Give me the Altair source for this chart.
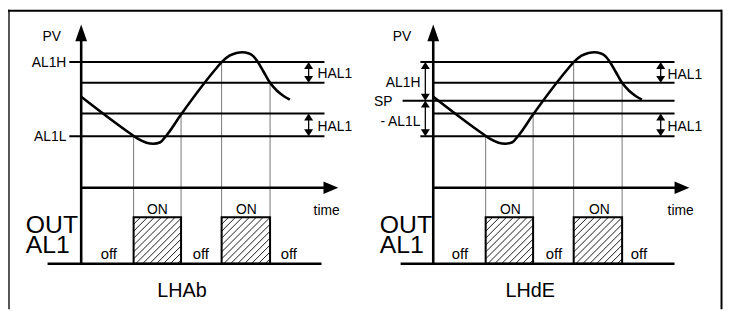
import altair as alt
import pandas as pd

# ---------------- data ----------------
PANEL_NAMES = ["LHAb", "LHdE"]
AXIS_X = [82, 438]              # where each PV axis stands (time origin)

# PV levels (rows of the drawing)
AL1H = 61
AL1H_MINUS_HAL1 = 82
SP = 100
AL1L_PLUS_HAL1 = 113
AL1L = 136

# PV trace, time measured from the PV axis
CURVE_T = [0, 50, 58, 66, 73, 80, 86, 101, 136, 142, 150, 157, 163, 169, 174, 178, 184, 191, 198, 205, 211]
CURVE_PV = [96, 133.5, 139, 142.5, 143.5, 142, 135.5, 114, 68, 61, 54.5, 51.8, 51, 52, 55, 60, 70, 82, 90, 95.5, 99]

# switching instants of the alarm output and the level crossed
SWITCH_T = [53, 101, 142, 191]
SWITCH_PV = [AL1L, AL1L_PLUS_HAL1, AL1H, AL1H_MINUS_HAL1]

# level lines per panel: (level, start, end) relative to axis
LEVELS_LHAB = [(AL1H, -12, 246), (AL1H_MINUS_HAL1, 0, 246), (AL1L_PLUS_HAL1, 0, 246), (AL1L, -12, 246)]
LEVELS_LHDE = [(AL1H, -13, 244), (AL1H_MINUS_HAL1, 0, 244), (SP, -31, 244), (AL1L_PLUS_HAL1, 0, 244), (AL1L, -13, 244)]

TIME_AXIS_ROW = 188
OUT_HIGH_ROW = 218
OUT_LOW_ROW = 265
PV_TOP = 23

ON_TEXT = "ON"
OFF_TEXT = "off"
OUT_LABEL = ["OUT", "AL1"]

# ---------------- layout ----------------
X = alt.Scale(domain=[8, 731], range=[0, 723])
Y = alt.Scale(domain=[8, 311], range=[0, 303])
FONT = "Liberation Sans"

def xq(f="x"):
    return alt.X(f + ":Q", scale=X, axis=None)

def yq(f="y"):
    return alt.Y(f + ":Q", scale=Y, axis=None)

def rule_layer(rows, color="black", width=2.0):
    df = pd.DataFrame(rows, columns=["x", "y", "x2", "y2"])
    return alt.Chart(df).mark_rule(color=color, strokeWidth=width).encode(
        x=xq(), y=yq(), x2="x2:Q", y2="y2:Q")

thick, medium, guides, shafts, hatch = [], [], [], [], []
boxes = []
curve_rows = []
up_heads, down_heads, big_up, big_right = [], [], [], []

for p, (name, ox) in enumerate(zip(PANEL_NAMES, AXIS_X)):
    levels = LEVELS_LHAB if p == 0 else LEVELS_LHDE
    for lv, a, b in levels:
        medium.append((ox + a, lv, ox + b, lv))
    # PV axis and time axis
    thick.append((ox, PV_TOP + 8, ox, OUT_LOW_ROW))
    tend = 260 if p == 0 else 259
    thick.append((ox, TIME_AXIS_ROW, ox + tend - 10, TIME_AXIS_ROW))
    big_up.append((ox, PV_TOP))
    big_right.append((ox + tend, TIME_AXIS_ROW))
    # output baseline
    thick.append((ox - 34 if p == 0 else ox - 33, OUT_LOW_ROW, ox + (243 if p == 0 else 244), OUT_LOW_ROW))
    # PV curve
    for t, v in zip(CURVE_T, CURVE_PV):
        curve_rows.append((name, ox + t, v))
    # switching guides
    for t, v in zip(SWITCH_T, SWITCH_PV):
        guides.append((ox + t, v, ox + t, OUT_LOW_ROW))
    # ON boxes + hatch
    for k in range(2):
        x0, x1 = ox + SWITCH_T[2 * k], ox + SWITCH_T[2 * k + 1]
        boxes.append((x0, OUT_HIGH_ROW, x1, OUT_LOW_ROW))
        c = x0 + OUT_HIGH_ROW + 7
        while c < x1 + OUT_LOW_ROW:
            xa = max(x0, c - OUT_LOW_ROW)
            xb = min(x1, c - OUT_HIGH_ROW)
            hatch.append((xa, c - xa, xb, c - xb))
            c += 7
    # HAL1 arrows on the right
    hx = ox + 230
    for top, bot in [(AL1H, AL1H_MINUS_HAL1), (AL1L_PLUS_HAL1, AL1L)]:
        shafts.append((hx, top + 3, hx, bot - 3))
        up_heads.append((hx, top))
        down_heads.append((hx, bot))
    if p == 1:
        lx = ox - 8
        for top, bot in [(AL1H, SP), (SP, AL1L)]:
            shafts.append((lx, top + 3, lx, bot - 3))
            up_heads.append((lx, top))
            down_heads.append((lx, bot))

# text labels: text, x, baseline y, size, align
texts = [
    ("PV", 43, 40, 14, "left"), ("AL1H", 67, 66, 14, "right"), ("AL1L", 67, 141, 14, "right"),
    ("HAL1", 321, 77, 14, "left"), ("HAL1", 321, 131, 14, "left"),
    (ON_TEXT, 159, 215, 14, "center"), (ON_TEXT, 249, 215, 14, "center"),
    (OFF_TEXT, 110, 260, 15, "center"), (OFF_TEXT, 203, 260, 15, "center"), (OFF_TEXT, 292, 260, 15, "center"),
    ("time", 317, 216, 14, "left"),
    ("LHAb", 184, 299, 20, "center"),
    ("PV", 397, 40, 14, "left"), ("AL1H", 425, 86, 14, "right"), ("SP", 378, 105, 14, "left"),
    ("- AL1L", 425, 126, 14, "right"),
    ("HAL1", 675, 78, 14, "left"), ("HAL1", 675, 131, 14, "left"),
    (ON_TEXT, 516, 215, 14, "center"), (ON_TEXT, 606, 215, 14, "center"),
    (OFF_TEXT, 465, 260, 15, "center"), (OFF_TEXT, 560, 260, 15, "center"), (OFF_TEXT, 646, 260, 15, "center"),
    ("time", 675, 216, 14, "left"),
    ("LHdE", 536, 299, 20, "center"),
]
out_labels = [(OUT_LABEL, 26, 234), (OUT_LABEL, 384, 234)]

layers = []
# frame
layers.append(rule_layer([(9, 8, 9, 311)], color="#555555", width=2))
layers.append(rule_layer([(8, 9, 730, 9), (729.5, 8, 729.5, 311)], color="black", width=2))
layers.append(rule_layer(guides, color="#777777", width=1))
layers.append(rule_layer(hatch, color="black", width=0.9))
layers.append(rule_layer(medium, color="black", width=2))
layers.append(rule_layer(thick, color="black", width=2.6))
layers.append(rule_layer(shafts, color="black", width=1.3))

bdf = pd.DataFrame(boxes, columns=["x", "y", "x2", "y2"])
layers.append(alt.Chart(bdf).mark_rect(fillOpacity=0, stroke="black", strokeWidth=2).encode(
    x=xq(), y=yq(), x2="x2:Q", y2="y2:Q"))

cdf = pd.DataFrame(curve_rows, columns=["panel", "x", "y"])
layers.append(alt.Chart(cdf).mark_line(color="black", strokeWidth=2.6, interpolate="monotone").encode(
    x=xq(), y=yq(), detail="panel:N"))

def heads(rows, shape, size):
    df = pd.DataFrame(rows, columns=["x", "y"])
    return alt.Chart(df).mark_point(shape=shape, size=size, filled=True, color="black",
                                    opacity=1, strokeWidth=0).encode(x=xq(), y=yq())

layers.append(heads(up_heads, "M0,0L1.3,2L-1.3,2Z", 49))
layers.append(heads(down_heads, "M0,0L1.3,-2L-1.3,-2Z", 49))
layers.append(heads(big_up, "M0,0L0.7,2L-0.7,2Z", 289))
layers.append(heads(big_right, "M0,0L-2,0.85L-2,-0.85Z", 225))

tdf = pd.DataFrame(texts, columns=["text", "x", "y", "fs", "align"])
for al in ["left", "right", "center"]:
    sub = tdf[tdf["align"] == al]
    layers.append(alt.Chart(sub).mark_text(align=al, baseline="alphabetic", font=FONT, color="black").encode(
        x=xq(), y=yq(), text="text:N", size=alt.Size("fs:Q", scale=None)))

odf = pd.DataFrame(out_labels, columns=["text", "x", "y"])
layers.append(alt.Chart(odf).mark_text(align="left", baseline="alphabetic", font=FONT, color="black",
                                       fontSize=25, lineHeight=20).encode(
    x=xq(), y=yq(), text="text"))

chart = alt.layer(*layers).properties(
    width=723, height=303, padding=0, autosize=alt.AutoSizeParams(type="none")
).configure_view(stroke=None)

chart.save("out.html", embed_options={"renderer": "svg", "actions": False})
